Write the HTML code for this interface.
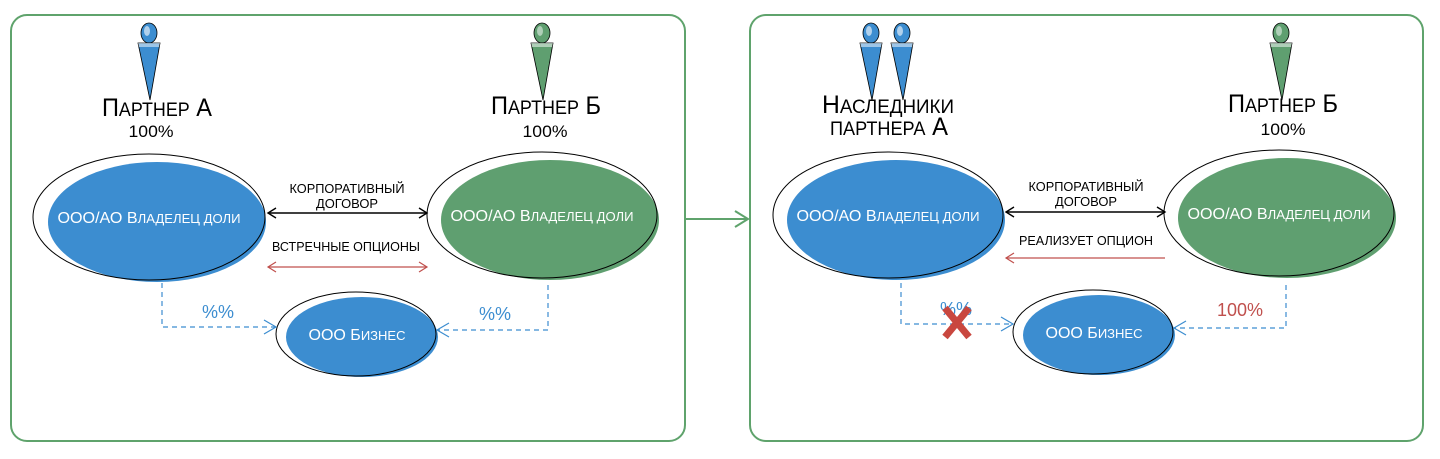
<!DOCTYPE html>
<html><head><meta charset="utf-8"><style>
html,body{margin:0;padding:0;background:#fff;width:1440px;height:459px;overflow:hidden}
text{font-family:"Liberation Sans","DejaVu Sans",sans-serif}
</style></head><body>
<svg width="1440" height="459" viewBox="0 0 1440 459" xmlns="http://www.w3.org/2000/svg">
<defs>
<g id="pb"><ellipse cx="0" cy="0" rx="8" ry="10" fill="#3c8dd0" stroke="#000" stroke-width="0.8"/><ellipse cx="-2" cy="-2" rx="3" ry="5" fill="#fff" opacity="0.6"/><path d="M-11,10 L11,10 L1,67 Z" fill="#3c8dd0" stroke="#000" stroke-width="0.8"/><path d="M-11,10 L11,10 L10,14 L-10,14Z" fill="#fff" opacity="0.5"/></g>
<g id="pg"><ellipse cx="0" cy="0" rx="8" ry="10" fill="#5f9f70" stroke="#000" stroke-width="0.8"/><ellipse cx="-2" cy="-2" rx="3" ry="5" fill="#fff" opacity="0.5"/><path d="M-11,10 L11,10 L1,67 Z" fill="#5f9f70" stroke="#000" stroke-width="0.8"/><path d="M-11,10 L11,10 L10,14 L-10,14Z" fill="#fff" opacity="0.5"/></g>
</defs>
<g fill="none" stroke="#5fa36c" stroke-width="2">
<rect x="11" y="15" width="674" height="426" rx="16"/>
<rect x="750" y="15" width="673" height="426" rx="16"/>
<line x1="685" y1="219" x2="748" y2="219"/><polyline points="735,211 748,219 735,227"/>
</g>

<!-- LEFT -->
<use href="#pb" x="149" y="33"/>
<use href="#pg" x="542" y="33"/>
<text x="157" y="116" font-size="25" text-anchor="middle" textLength="110" lengthAdjust="spacingAndGlyphs">П<tspan font-size="19">АРТНЕР</tspan> А</text>
<text x="151" y="137" font-size="17" text-anchor="middle" textLength="45" lengthAdjust="spacingAndGlyphs">100%</text>
<text x="546" y="114" font-size="25" text-anchor="middle" textLength="110" lengthAdjust="spacingAndGlyphs">П<tspan font-size="19">АРТНЕР</tspan> Б</text>
<text x="545" y="137" font-size="17" text-anchor="middle" textLength="45" lengthAdjust="spacingAndGlyphs">100%</text>

<ellipse cx="157" cy="222" rx="109" ry="60" fill="#3c8dd0"/>
<ellipse cx="149" cy="217" rx="116" ry="63" fill="none" stroke="#000" stroke-width="1"/>
<text x="149" y="223" font-size="16" fill="#fff" text-anchor="middle" textLength="183" lengthAdjust="spacingAndGlyphs">ООО/АО В<tspan font-size="13">ЛАДЕЛЕЦ ДОЛИ</tspan></text>
<ellipse cx="550" cy="220" rx="109" ry="60" fill="#5f9f70"/>
<ellipse cx="542" cy="215" rx="115" ry="63" fill="none" stroke="#000" stroke-width="1"/>
<text x="542" y="221" font-size="16" fill="#fff" text-anchor="middle" textLength="183" lengthAdjust="spacingAndGlyphs">ООО/АО В<tspan font-size="13">ЛАДЕЛЕЦ ДОЛИ</tspan></text>

<text x="347" y="193" font-size="13" text-anchor="middle" textLength="115" lengthAdjust="spacingAndGlyphs">КОРПОРАТИВНЫЙ</text>
<text x="347" y="208" font-size="13" text-anchor="middle" textLength="62" lengthAdjust="spacingAndGlyphs">ДОГОВОР</text>
<g stroke="#000" stroke-width="1.4" fill="none"><line x1="268" y1="213" x2="427" y2="213"/><polyline points="276,208 268,213 276,218"/><polyline points="419,208 427,213 419,218"/></g>
<text x="346" y="251" font-size="13" text-anchor="middle" textLength="148" lengthAdjust="spacingAndGlyphs">ВСТРЕЧНЫЕ ОПЦИОНЫ</text>
<g stroke="#c0504d" stroke-width="1.2" fill="none"><line x1="268" y1="267" x2="427" y2="267"/><polyline points="276,262 268,267 276,272"/><polyline points="419,262 427,267 419,272"/></g>

<ellipse cx="362" cy="337" rx="76" ry="40" fill="#3c8dd0"/>
<ellipse cx="356" cy="334" rx="80" ry="42" fill="none" stroke="#000" stroke-width="1"/>
<text x="357" y="340" font-size="16" fill="#fff" text-anchor="middle" textLength="97" lengthAdjust="spacingAndGlyphs">ООО Б<tspan font-size="13">ИЗНЕС</tspan></text>

<g stroke="#3c8dd0" stroke-width="1.2" fill="none" stroke-dasharray="5,4">
<polyline points="162,283 162,327 276,327"/>
<polyline points="548,285 548,330 437,330"/>
</g>
<g stroke="#3c8dd0" stroke-width="1.2" fill="none"><polyline points="264,320 276,327 264,334"/><polyline points="449,323 437,330 449,337"/></g>
<text x="218" y="318" font-size="18" fill="#3c8dd0" text-anchor="middle">%%</text>
<text x="495" y="320" font-size="18" fill="#3c8dd0" text-anchor="middle">%%</text>

<!-- RIGHT -->
<use href="#pb" x="871" y="33"/>
<use href="#pb" x="902" y="33"/>
<use href="#pg" x="1281" y="33"/>
<text x="888" y="113" font-size="25" text-anchor="middle" textLength="132" lengthAdjust="spacingAndGlyphs">Н<tspan font-size="19">АСЛЕДНИКИ</tspan></text>
<text x="889" y="135" font-size="25" text-anchor="middle" textLength="118" lengthAdjust="spacingAndGlyphs"><tspan font-size="19">ПАРТНЕРА</tspan> А</text>
<text x="1283" y="112" font-size="25" text-anchor="middle" textLength="110" lengthAdjust="spacingAndGlyphs">П<tspan font-size="19">АРТНЕР</tspan> Б</text>
<text x="1283" y="135" font-size="17" text-anchor="middle" textLength="45" lengthAdjust="spacingAndGlyphs">100%</text>

<ellipse cx="896" cy="220" rx="109" ry="60" fill="#3c8dd0"/>
<ellipse cx="888" cy="215" rx="115" ry="63" fill="none" stroke="#000" stroke-width="1"/>
<text x="888" y="221" font-size="16" fill="#fff" text-anchor="middle" textLength="183" lengthAdjust="spacingAndGlyphs">ООО/АО В<tspan font-size="13">ЛАДЕЛЕЦ ДОЛИ</tspan></text>
<ellipse cx="1287" cy="218" rx="109" ry="60" fill="#5f9f70"/>
<ellipse cx="1279" cy="213" rx="115" ry="63" fill="none" stroke="#000" stroke-width="1"/>
<text x="1279" y="219" font-size="16" fill="#fff" text-anchor="middle" textLength="183" lengthAdjust="spacingAndGlyphs">ООО/АО В<tspan font-size="13">ЛАДЕЛЕЦ ДОЛИ</tspan></text>

<text x="1086" y="191" font-size="13" text-anchor="middle" textLength="115" lengthAdjust="spacingAndGlyphs">КОРПОРАТИВНЫЙ</text>
<text x="1086" y="206" font-size="13" text-anchor="middle" textLength="62" lengthAdjust="spacingAndGlyphs">ДОГОВОР</text>
<g stroke="#000" stroke-width="1.4" fill="none"><line x1="1006" y1="212" x2="1165" y2="212"/><polyline points="1014,207 1006,212 1014,217"/><polyline points="1157,207 1165,212 1157,217"/></g>
<text x="1086" y="245" font-size="13" text-anchor="middle" textLength="134" lengthAdjust="spacingAndGlyphs">РЕАЛИЗУЕТ ОПЦИОН</text>
<g stroke="#c0504d" stroke-width="1.2" fill="none"><line x1="1006" y1="258" x2="1165" y2="258"/><polyline points="1014,253 1006,258 1014,263"/></g>

<ellipse cx="1099" cy="335" rx="76" ry="40" fill="#3c8dd0"/>
<ellipse cx="1093" cy="332" rx="80" ry="42" fill="none" stroke="#000" stroke-width="1"/>
<text x="1094" y="338" font-size="16" fill="#fff" text-anchor="middle" textLength="97" lengthAdjust="spacingAndGlyphs">ООО Б<tspan font-size="13">ИЗНЕС</tspan></text>

<g stroke="#3c8dd0" stroke-width="1.2" fill="none" stroke-dasharray="5,4">
<polyline points="901,283 901,324 1013,324"/>
<polyline points="1286,285 1286,328 1174,328"/>
</g>
<g stroke="#3c8dd0" stroke-width="1.2" fill="none"><polyline points="1001,317 1013,324 1001,331"/><polyline points="1186,321 1174,328 1186,335"/></g>
<text x="956" y="315" font-size="18" fill="#3c8dd0" text-anchor="middle">%%</text>
<text x="1240" y="316" font-size="18" fill="#c0504d" text-anchor="middle">100%</text>
<g stroke="#c9473f" stroke-width="7" stroke-linecap="butt"><line x1="945" y1="308" x2="969" y2="337"/><line x1="969" y1="308" x2="945" y2="337"/></g>
</svg>
</body></html>
